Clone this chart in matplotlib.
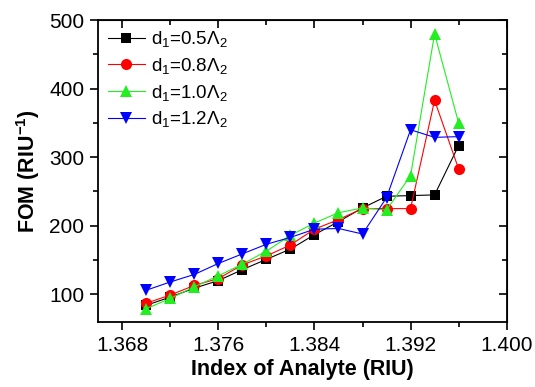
import matplotlib
matplotlib.use("Agg")
import matplotlib.pyplot as plt
from matplotlib.ticker import MultipleLocator

plt.rcParams['font.family'] = ['Liberation Sans', 'DejaVu Sans']
plt.rcParams['mathtext.fontset'] = 'custom'
plt.rcParams['mathtext.rm'] = 'Liberation Sans'
plt.rcParams['mathtext.it'] = 'Liberation Sans'
plt.rcParams['mathtext.bf'] = 'Liberation Sans:bold'

index = [1.370, 1.372, 1.374, 1.376, 1.378, 1.380, 1.382,
         1.384, 1.386, 1.388, 1.390, 1.392, 1.394, 1.396]
fom_05 = [84, 96, 109, 120, 136, 151, 166, 187, 206, 226, 243, 244, 245, 317]
fom_08 = [87, 99, 113, 123, 143, 156, 172, 195, 209, 225, 225, 225, 383, 283]
fom_10 = [79, 94, 111, 127, 144, 163, 186, 204, 219, 226, 223, 273, 480, 350]
fom_12 = [106, 118, 129, 145, 159, 173, 183, 195, 196, 188, 241, 340, 329, 330]
labels = ['d$_\\mathregular{1}$=0.5Λ$_\\mathregular{2}$',
          'd$_\\mathregular{1}$=0.8Λ$_\\mathregular{2}$',
          'd$_\\mathregular{1}$=1.0Λ$_\\mathregular{2}$',
          'd$_\\mathregular{1}$=1.2Λ$_\\mathregular{2}$']

fig = plt.figure(figsize=(5.35, 3.87), dpi=100)
ax = fig.add_axes([0.1837, 0.1687, 0.947 - 0.1837, 0.948 - 0.1687])

styles = [
    (fom_05, '#000000', 's', 7),
    (fom_08, '#ff0000', 'o', 8),
    (fom_10, '#22ee22', '^', 9),
    (fom_12, '#0000ff', 'v', 9),
]
for (vals, col, mk, ms), lab in zip(styles, labels):
    ax.plot(index, vals, color=col, lw=0.8, marker=mk, ms=ms,
            markeredgewidth=0, label=lab)

ax.set_xlim(1.366, 1.400)
ax.set_ylim(60, 500)
ax.xaxis.set_minor_locator(MultipleLocator(0.004))
ax.yaxis.set_major_locator(MultipleLocator(100))
ax.yaxis.set_minor_locator(MultipleLocator(50))
ax.set_xticks([1.368, 1.376, 1.384, 1.392, 1.400])
ax.set_xticklabels(['1.368', '1.376', '1.384', '1.392', '1.400'])
ax.tick_params(which='major', direction='out', length=6, width=1.2,
               labelsize=15, pad=4)
ax.tick_params(which='minor', direction='out', length=3.5, width=1.2)
for s in ax.spines.values():
    s.set_linewidth(1.3)

# mirrored inward ticks on top and right
top = ax.secondary_xaxis('top')
top.set_xticks([1.368, 1.376, 1.384, 1.392, 1.400])
top.xaxis.set_minor_locator(MultipleLocator(0.004))
top.tick_params(which='major', direction='in', length=6, width=1.2, labeltop=False)
top.tick_params(which='minor', direction='in', length=3.5, width=1.2)
right = ax.secondary_yaxis('right')
right.yaxis.set_major_locator(MultipleLocator(100))
right.yaxis.set_minor_locator(MultipleLocator(50))
right.tick_params(which='major', direction='in', length=6, width=1.2, labelright=False)
right.tick_params(which='minor', direction='in', length=3.5, width=1.2)

ax.set_xlabel('Index of Analyte (RIU)', fontsize=15.5, fontweight='bold', labelpad=3)
ax.set_ylabel('FOM (RIU$^\\mathregular{-1}$)', fontsize=15.5, fontweight='bold', labelpad=5)

ax.legend(loc='upper left', frameon=False, fontsize=13.5, handlelength=2.0,
          handletextpad=0.3, labelspacing=0.35, borderaxespad=0.2,
          borderpad=0.3)

fig.savefig('out.png', dpi=100)
